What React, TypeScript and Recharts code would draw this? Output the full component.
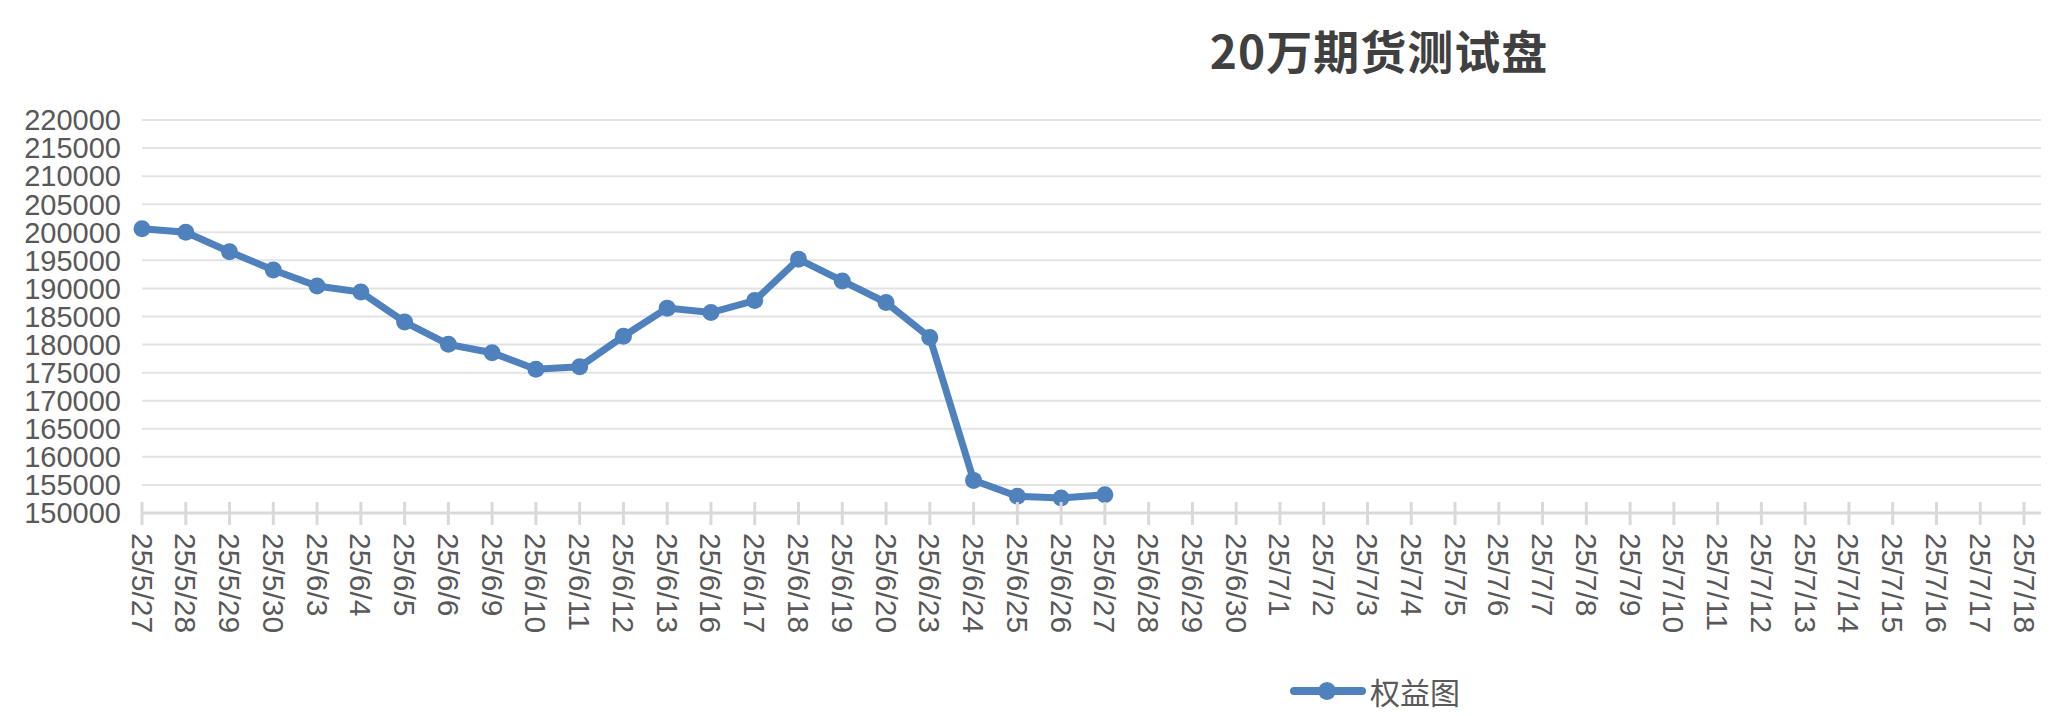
import { CartesianGrid, Legend, Line, LineChart, XAxis, YAxis } from 'recharts'

// Trading days on the x-axis, including the future days that are still empty
const dates = [
  '25/5/27', '25/5/28', '25/5/29', '25/5/30', '25/6/3', '25/6/4', '25/6/5', '25/6/6',
  '25/6/9', '25/6/10', '25/6/11', '25/6/12', '25/6/13', '25/6/16', '25/6/17', '25/6/18',
  '25/6/19', '25/6/20', '25/6/23', '25/6/24', '25/6/25', '25/6/26', '25/6/27', '25/6/28',
  '25/6/29', '25/6/30', '25/7/1', '25/7/2', '25/7/3', '25/7/4', '25/7/5', '25/7/6',
  '25/7/7', '25/7/8', '25/7/9', '25/7/10', '25/7/11', '25/7/12', '25/7/13', '25/7/14',
  '25/7/15', '25/7/16', '25/7/17', '25/7/18',
]

// Account equity
const equity = [
  200640, 200000, 196540, 193280, 190430, 189360, 184020, 180040,
  178550, 175590, 176060, 181480, 186490, 185710, 187840, 195200,
  191340, 187490, 181260, 155810, 152970, 152670, 153260,
]

const yTicks = [
  150000, 155000, 160000, 165000, 170000, 175000, 180000, 185000,
  190000, 195000, 200000, 205000, 210000, 215000, 220000,
]

const seriesName = '权益图'
const title = '20万期货测试盘'

const BLUE = '#4f81bd'
const TEXT = '#595959'
const LATIN = '"Liberation Sans", Arial, sans-serif'
const CJK = '"Noto Sans CJK SC", "Liberation Sans", sans-serif'

const rows = dates.map((date, i) => ({ date, value: equity[i] ?? null }))

function DateTick({ x, y, payload }: any) {
  return (
    <g>
      <line x1={x} x2={x} y1={y - 11} y2={y + 12} stroke="#d9d9d9" strokeWidth={3} />
      <text
        transform={`translate(${x},${y + 20}) rotate(90)`}
        textAnchor="start"
        dominantBaseline="central"
        fill={TEXT}
        fontSize={30}
        fontFamily={LATIN}
      >
        {payload.value}
      </text>
    </g>
  )
}

function LegendItem() {
  return (
    <div style={{ display: 'flex', alignItems: 'center', fontFamily: CJK, fontSize: 30, color: TEXT }}>
      <svg width={76} height={20}>
        <line x1={4} x2={72} y1={10} y2={10} stroke={BLUE} strokeWidth={8} strokeLinecap="round" />
        <circle cx={37} cy={10} r={9} fill={BLUE} />
      </svg>
      <span style={{ marginLeft: 4, lineHeight: '30px' }}>{seriesName}</span>
    </div>
  )
}

export default function App() {
  return (
    <div style={{ position: 'absolute', left: 0, top: 0, width: 2054, height: 716, background: '#fff' }}>
      <div
        style={{
          position: 'absolute',
          left: 1379,
          top: 21,
          transform: 'translateX(-50%)',
          fontFamily: CJK,
          fontWeight: 700,
          fontSize: 46,
          lineHeight: '56px',
          letterSpacing: 1,
          color: '#404040',
          whiteSpace: 'nowrap',
        }}
      >
        {title}
      </div>
      <LineChart width={2054} height={716} data={rows} margin={{ top: 120, right: 13, bottom: 53, left: 0 }}>
        <CartesianGrid vertical={false} stroke="#e3e3e3" strokeWidth={2} />
        <XAxis
          dataKey="date"
          interval={0}
          height={150}
          padding={{ left: 0, right: 17 }}
          axisLine={{ stroke: '#d9d9d9', strokeWidth: 3 }}
          tickLine={false}
          tickSize={0}
          tickMargin={0}
          tick={<DateTick />}
        />
        <YAxis
          width={142}
          domain={[150000, 220000]}
          ticks={yTicks}
          interval={0}
          axisLine={false}
          tickLine={false}
          tickSize={0}
          tickMargin={21}
          tick={{ fill: TEXT, fontSize: 29, fontFamily: LATIN }}
        />
        <Legend
          layout="horizontal"
          verticalAlign="middle"
          align="center"
          wrapperStyle={{ position: 'absolute', left: 1290, top: 676, width: 'auto' }}
          content={() => <LegendItem />}
        />
        <Line
          type="linear"
          dataKey="value"
          name={seriesName}
          stroke={BLUE}
          strokeWidth={7}
          dot={{ r: 8.5, fill: BLUE, stroke: 'none' }}
          activeDot={false}
          isAnimationActive={false}
        />
      </LineChart>
    </div>
  )
}
